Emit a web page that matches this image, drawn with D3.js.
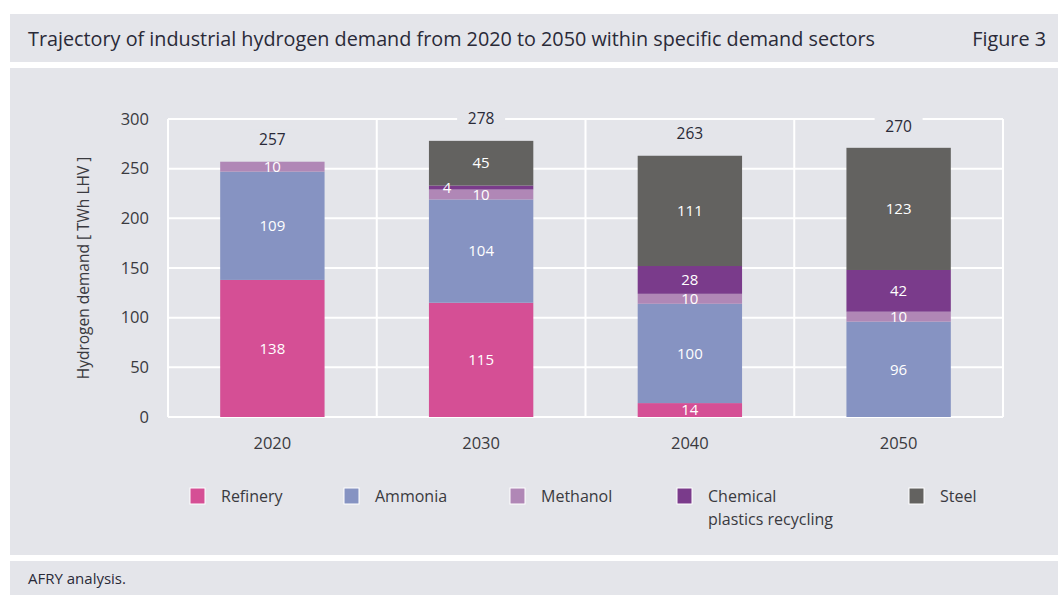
<!DOCTYPE html>
<html lang="en">
<head>
<meta charset="UTF-8">
<title>Industrial hydrogen demand</title>
<script src="https://d3js.org/d3.v7.min.js"></script>
<style>
  body { margin: 0; background: #ffffff; }
  svg { display: block; font-family: "Open Sans", sans-serif; }
</style>
</head>
<body>
<div id="chart"></div>
<script>
// data
const years = ["2020", "2030", "2040", "2050"];
const sectors = ["Refinery", "Ammonia", "Methanol", "Chemical plastics recycling", "Steel"];
const refinery = [138, 115, 14, 0];
const ammonia = [109, 104, 100, 96];
const methanol = [10, 10, 10, 10];
const chemical = [0, 4, 28, 42];
const steel = [0, 45, 111, 123];
const totals = [257, 278, 263, 270];
const yTicks = [0, 50, 100, 150, 200, 250, 300];

const colors = ["#d54f95", "#8693c2", "#b087b6", "#7a3b8b", "#636260"];
const panel = "#e4e5ea";
const textCol = "#3a3a40";
const titleCol = "#2a2a38";

const W = 1058, H = 595;
const svg = d3.select("#chart").append("svg").attr("width", W).attr("height", H);

// panels
svg.append("rect").attr("x", 10).attr("y", 14).attr("width", W - 10).attr("height", 48).attr("fill", panel);
svg.append("rect").attr("x", 10).attr("y", 68).attr("width", W - 10).attr("height", 487).attr("fill", panel);
svg.append("rect").attr("x", 10).attr("y", 561).attr("width", W - 10).attr("height", 34).attr("fill", panel);

svg.append("text").attr("x", 28).attr("y", 46)
  .attr("font-size", 19.8).attr("fill", titleCol)
  .text("Trajectory of industrial hydrogen demand from 2020 to 2050 within specific demand sectors");
svg.append("text").attr("x", 1046).attr("y", 46).attr("text-anchor", "end")
  .attr("font-size", 19.8).attr("fill", titleCol).text("Figure 3");
svg.append("text").attr("x", 28).attr("y", 584)
  .attr("font-size", 15).attr("fill", titleCol).text("AFRY analysis.");

// scales
const x = d3.scaleBand().domain(years).range([168, 1003]).paddingInner(0.5).paddingOuter(0.25);
const y = d3.scaleLinear().domain([0, 300]).range([417, 119]);

// grid
const grid = svg.append("g").attr("stroke", "#ffffff").attr("stroke-width", 2);
grid.selectAll("line.h").data(yTicks).join("line")
  .attr("x1", 168).attr("x2", 1003)
  .attr("y1", d => y(d)).attr("y2", d => y(d));
const edges = d3.range(years.length + 1).map(i => 168 + i * x.step());
grid.selectAll("line.v").data(edges).join("line")
  .attr("x1", d => d).attr("x2", d => d)
  .attr("y1", y(300)).attr("y2", y(0));

// y axis labels
svg.append("g").selectAll("text").data(yTicks).join("text")
  .attr("x", 149).attr("y", d => y(d)).attr("dy", "0.35em")
  .attr("text-anchor", "end").attr("font-size", 16.5).attr("fill", textCol)
  .text(d => d);

svg.append("text")
  .attr("transform", `translate(89,${y(150)}) rotate(-90)`)
  .attr("text-anchor", "middle").attr("font-size", 15.5).attr("fill", textCol)
  .text("Hydrogen demand [ TWh LHV ]");

// x labels
svg.append("g").selectAll("text").data(years).join("text")
  .attr("x", d => x(d) + x.bandwidth() / 2).attr("y", 443).attr("dy", "0.35em")
  .attr("text-anchor", "middle").attr("font-size", 16.5).attr("fill", textCol)
  .text(d => d);

// stacked bars
const rows = years.map((yr, i) => ({
  year: yr, 0: refinery[i], 1: ammonia[i], 2: methanol[i], 3: chemical[i], 4: steel[i]
}));
const series = d3.stack().keys([0, 1, 2, 3, 4])(rows);

svg.append("g").selectAll("g").data(series).join("g")
  .attr("fill", (d, i) => colors[i])
  .selectAll("rect").data(d => d).join("rect")
  .attr("x", d => x(d.data.year)).attr("width", x.bandwidth())
  .attr("y", d => y(d[1])).attr("height", d => y(d[0]) - y(d[1]));

// segment values, drawn on top of all bars
const segs = series.flatMap(s => s.filter(p => p[1] - p[0] > 0));
svg.append("g").selectAll("text").data(segs).join("text")
  .attr("x", d => {
    const v = d[1] - d[0];
    return v < 5 ? x(d.data.year) + 18 : x(d.data.year) + x.bandwidth() / 2;
  })
  .attr("y", d => y((d[0] + d[1]) / 2))
  .attr("dy", "0.35em").attr("text-anchor", "middle")
  .attr("font-size", 15).attr("fill", "#ffffff")
  .text(d => d[1] - d[0]);

// totals with panel-coloured backing
const tot = svg.append("g").selectAll("g").data(years).join("g")
  .attr("transform", (d, i) => `translate(${x(d) + x.bandwidth() / 2},${y(totals[i]) - 22})`);
tot.append("rect").attr("x", -24).attr("y", -10).attr("width", 48).attr("height", 20).attr("fill", panel);
tot.append("text").attr("dy", "0.35em").attr("text-anchor", "middle")
  .attr("font-size", 15.5).attr("fill", titleCol)
  .text((d, i) => totals[i]);

// legend
const legendX = [190, 344, 510, 677, 909];
const leg = svg.append("g").selectAll("g").data(sectors).join("g")
  .attr("transform", (d, i) => `translate(${legendX[i]},488)`);
leg.append("rect").attr("width", 15).attr("height", 16)
  .attr("fill", (d, i) => colors[i]).attr("stroke", "#ffffff").attr("stroke-width", 1);
leg.append("text").attr("y", 8)
  .attr("font-size", 16).attr("fill", textCol)
  .each(function (d) {
    const parts = d === "Chemical plastics recycling" ? ["Chemical", "plastics recycling"] : [d];
    d3.select(this).selectAll("tspan").data(parts).join("tspan")
      .attr("x", 31).attr("dy", (p, j) => j === 0 ? "0.35em" : "1.45em")
      .text(p => p);
  });
</script>
</body>
</html>
